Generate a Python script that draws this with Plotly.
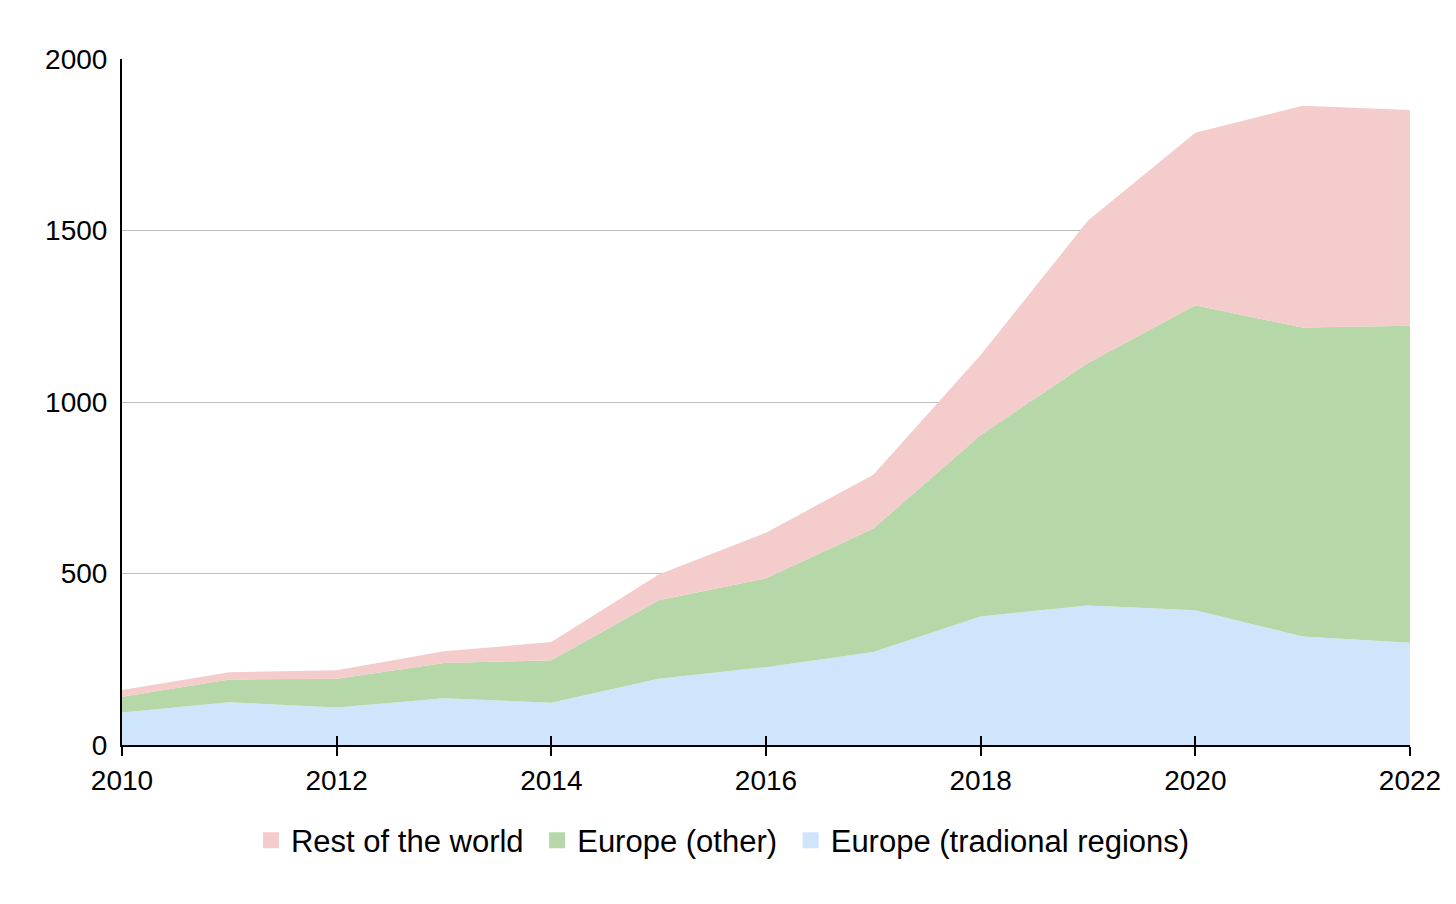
import plotly.graph_objects as go

years = list(range(2010, 2023))
europe_traditional = [95, 125, 109, 136, 123, 193, 227, 271, 375, 407, 393, 316, 298]
europe_other = [46, 66, 84, 103, 124, 229, 259, 360, 529, 707, 889, 901, 924]
rest_of_world = [19, 21, 25, 34, 53, 75, 133, 157, 233, 415, 503, 647, 629]

series = [
    ("Europe (tradional regions)", europe_traditional, "#cfe5fc"),
    ("Europe (other)", europe_other, "#b6d7a8"),
    ("Rest of the world", rest_of_world, "#f4cccc"),
]
legend_pad = {"Europe (tradional regions)": "", "Europe (other)": "\u00a0", "Rest of the world": "\u00a0"}

fig = go.Figure()
for name, vals, col in series:
    fig.add_trace(go.Scatter(
        x=years, y=vals, name=name, stackgroup="one", mode="none",
        fillcolor=col, line=dict(width=0), hoverinfo="x+y+name",
        legendgroup=name, showlegend=False,
    ))
# legend entries with square swatches
for name, vals, col in series:
    fig.add_trace(go.Scatter(
        x=[None], y=[None], name=name + legend_pad[name], mode="markers", legendgroup=name,
        marker=dict(symbol="square", size=18, color=col), hoverinfo="skip",
    ))

font = "Liberation Sans, Arial, sans-serif"
fig.update_layout(
    width=1440, height=888,
    margin=dict(l=114, r=38, t=51, b=151),
    paper_bgcolor="white", plot_bgcolor="white",
    font=dict(family=font, size=28, color="black"),
    showlegend=True,
    legend=dict(orientation="h", x=0.4666, xanchor="center", y=-0.1, yanchor="top",
                traceorder="reversed", font=dict(size=31), itemsizing="trace"),
    xaxis=dict(range=[2010, 2022], tickvals=[2010, 2012, 2014, 2016, 2018, 2020, 2022],
               showgrid=False, zeroline=False, showline=True, linecolor="black", linewidth=2,
               ticks="outside", ticklen=9, tickwidth=2, tickcolor="black", automargin=False,
               tickfont=dict(size=28)),
    xaxis2=dict(range=[2010, 2022], overlaying="x", tickvals=[2010, 2012, 2014, 2016, 2018, 2020, 2022],
                showgrid=False, zeroline=False, showline=False, ticks="inside", ticklen=9,
                tickwidth=2, tickcolor="black", showticklabels=False, side="bottom", anchor="y",
                automargin=False),
    yaxis=dict(range=[0, 2000], tickvals=[0, 500, 1000, 1500, 2000],
               showgrid=True, gridcolor="#bdbdbd", gridwidth=1, zeroline=False, automargin=False,
               showline=True, linecolor="black", linewidth=2, ticks="", ticklabelstandoff=7,
               tickfont=dict(size=28)),
)
fig.add_trace(go.Scatter(x=[2010], y=[0], xaxis="x2", mode="none", showlegend=False, hoverinfo="skip"))

fig.write_html("out.html")
